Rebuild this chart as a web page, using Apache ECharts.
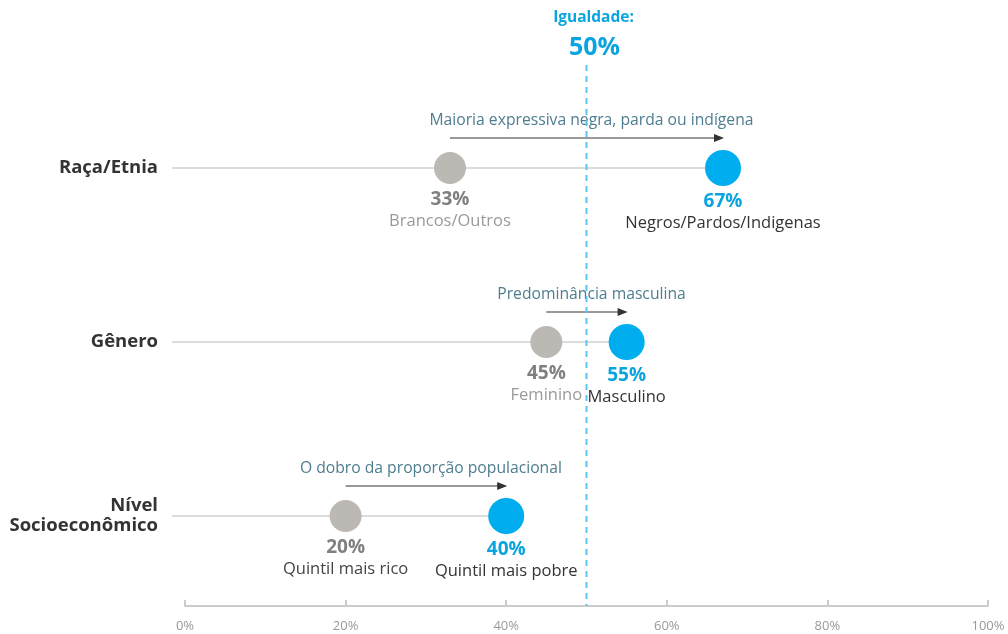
<!DOCTYPE html>
<html>
<head>
<meta charset="utf-8">
<script src="https://cdn.jsdelivr.net/npm/echarts@6/dist/echarts.min.js"></script>
<style>
  html, body { margin: 0; padding: 0; background: #fff; }
  #chart { width: 1008px; height: 634px; }
</style>
</head>
<body>
<div id="chart"></div>
<script>
const categories = ['Raça/Etnia', 'Gênero', 'Nível\nSocioeconômico'];
const lowValues = [33, 45, 20];
const highValues = [67, 55, 40];
const lowNames = ['Brancos/Outros', 'Feminino', 'Quintil mais rico'];
const highNames = ['Negros/Pardos/Indigenas', 'Masculino', 'Quintil mais pobre'];
const notes = [
  'Maioria expressiva negra, parda ou indígena',
  'Predominância masculina',
  'O dobro da proporção populacional'
];
const equality = 50;
const xTicks = [0, 20, 40, 60, 80, 100];

const FONT = '"Open Sans", Lato, sans-serif';
const BLUE = '#00aeef';
const BLUE_TEXT = '#0aa5e0';
const GRAY_DOT = '#bcb9b5';

const chart = echarts.init(document.getElementById('chart'));

// faint row line, arrow and note above each row
function renderRow(params, api) {
  const cat = api.value(0);
  const lo = api.value(1);
  const hi = api.value(2);
  const start = api.coord([0, cat]);
  const y = start[1];
  const xLo = api.coord([lo, cat])[0];
  const xHi = api.coord([hi, cat])[0];
  const ay = y - 30;
  return {
    type: 'group',
    children: [
      {
        type: 'line',
        shape: { x1: start[0] - 13, y1: y, x2: xHi, y2: y },
        style: { stroke: '#d0d0d0', lineWidth: 1.5 }
      },
      {
        type: 'line',
        shape: { x1: xLo, y1: ay, x2: xHi - 6, y2: ay },
        style: { stroke: '#333', lineWidth: 1.2 }
      },
      {
        type: 'polygon',
        shape: { points: [[xHi + 1, ay], [xHi - 9, ay - 4], [xHi - 9, ay + 4]] },
        style: { fill: '#333' }
      },
      {
        type: 'text',
        style: {
          x: (xLo + xHi) / 2 + 5, y: y - 47,
          text: notes[params.dataIndex],
          fill: '#4d7d8f', font: '15.7px ' + FONT,
          align: 'center', verticalAlign: 'middle'
        }
      }
    ]
  };
}

function renderEquality(params, api) {
  const x = api.coord([api.value(0), 0])[0];
  return {
    type: 'group',
    children: [
      {
        type: 'line',
        shape: { x1: x, y1: 65, x2: x, y2: 606 },
        style: { stroke: '#5cc6ee', lineWidth: 2, lineDash: [6, 5] }
      },
      {
        type: 'text',
        style: {
          x: x + 7, y: 18, text: 'Igualdade:',
          fill: BLUE_TEXT, font: 'bold 15.5px ' + FONT,
          align: 'center', verticalAlign: 'middle'
        }
      },
      {
        type: 'text',
        style: {
          x: x + 8, y: 48, text: api.value(0) + '%',
          fill: BLUE_TEXT, font: 'bold 25px ' + FONT,
          align: 'center', verticalAlign: 'middle'
        }
      }
    ]
  };
}

function dotLabel(pctColor, nameColor, name) {
  return {
    show: true,
    position: 'bottom',
    distance: 5,
    formatter: p => '{p|' + p.value[0] + '%}\n{s|' + name + '}',
    rich: {
      p: { fontSize: 19, fontWeight: 'bold', color: pctColor, lineHeight: 22, fontFamily: FONT },
      s: { fontSize: 16.5, color: nameColor, lineHeight: 20, fontFamily: FONT }
    }
  };
}

const option = {
  animation: false,
  grid: { left: 185, right: 20, top: 81, bottom: 31 },
  xAxis: {
    type: 'value',
    min: 0,
    max: 100,
    interval: 20,
    offset: 3,
    splitLine: { show: false },
    axisLine: { show: true, lineStyle: { color: '#cccccc', width: 2 } },
    axisTick: { show: true, inside: true, length: 6, lineStyle: { color: '#cccccc', width: 2 } },
    axisLabel: {
      color: '#999', fontSize: 13, margin: 14, fontFamily: FONT,
      formatter: v => (xTicks.includes(v) ? v + '%' : '')
    }
  },
  yAxis: {
    type: 'category',
    data: categories,
    inverse: true,
    axisLine: { show: false },
    axisTick: { show: false },
    splitLine: { show: false },
    axisLabel: {
      margin: 27, fontSize: 18.5, fontWeight: 'bold', color: '#333',
      lineHeight: 20, fontFamily: FONT
    }
  },
  series: [
    {
      type: 'custom',
      z: 1,
      renderItem: renderRow,
      encode: { x: [1, 2], y: 0 },
      data: categories.map((c, i) => [i, lowValues[i], highValues[i]])
    },
    {
      type: 'custom',
      z: 2,
      renderItem: renderEquality,
      encode: { x: 0, y: 1 },
      data: [[equality, 0]]
    },
    {
      type: 'scatter',
      z: 3,
      symbolSize: 32,
      itemStyle: { color: GRAY_DOT, opacity: 1 },
      data: lowValues.map((v, i) => ({
        value: [v, i],
        label: dotLabel('#808080', i === 2 ? '#444' : '#9a9a9a', lowNames[i])
      }))
    },
    {
      type: 'scatter',
      z: 3,
      symbolSize: 36,
      itemStyle: { color: BLUE, opacity: 1 },
      data: highValues.map((v, i) => ({
        value: [v, i],
        label: dotLabel(BLUE_TEXT, '#333', highNames[i])
      }))
    }
  ]
};

chart.setOption(option);
</script>
</body>
</html>
